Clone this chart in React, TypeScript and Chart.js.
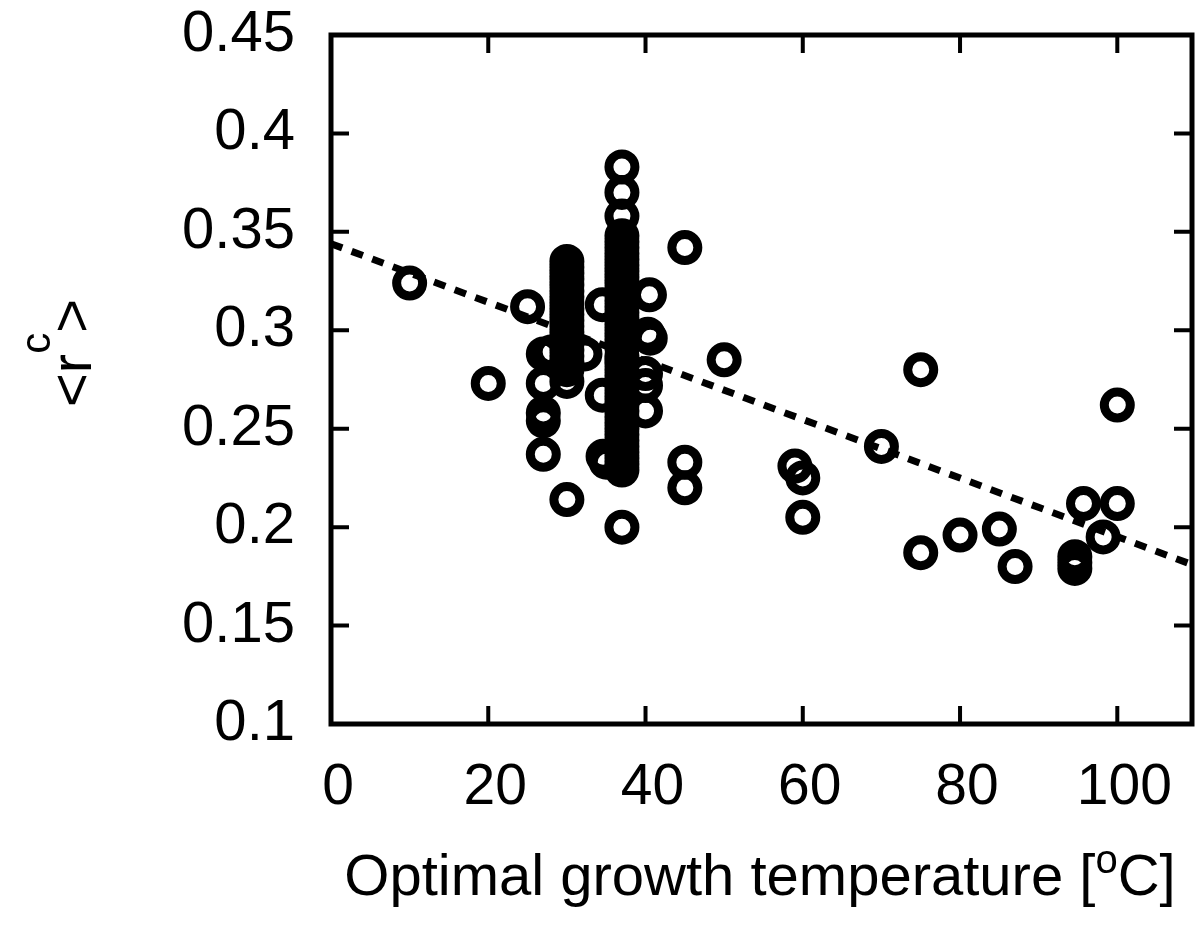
import React, { useEffect, useRef } from "react";
import { Chart, registerables } from "chart.js";

Chart.register(...registerables);

// Optimal growth temperature [°C] of each organism (x) and its <r^c> (y)
const growthTemps = [
  10, 20, 25, 27, 27, 27, 27, 27, 28,
  30, 30, 30, 30, 30, 30, 30, 30, 30, 30, 30, 30, 30, 30, 30, 30, 30, 30, 30, 30, 30,
  32.3, 34.5, 34.5, 34.6, 35,
  37, 37, 37, 37, 37, 37, 37, 37, 37, 37, 37, 37, 37, 37, 37, 37, 37, 37, 37, 37,
  37, 37, 37, 37, 37, 37, 37, 37, 37, 37, 37, 37, 37, 37, 37, 37, 37, 37, 37, 37,
  37, 37, 37, 37, 37,
  40.5, 40.3, 40.6, 40, 40, 40,
  45, 45, 45, 50, 59, 60, 60, 70, 75, 75, 80, 85, 87,
  94.6, 94.6, 94.6, 95.7, 98.2, 100, 100,
];
const rcValues = [
  0.324, 0.273, 0.312, 0.288, 0.273, 0.258, 0.254, 0.237, 0.289,
  0.335, 0.332, 0.329, 0.326, 0.323, 0.32, 0.317, 0.314, 0.311, 0.308, 0.305, 0.302, 0.299, 0.296, 0.293, 0.29, 0.287, 0.284, 0.28, 0.274, 0.214,
  0.288, 0.313, 0.267, 0.236, 0.233,
  0.383, 0.37, 0.358, 0.348, 0.345, 0.342, 0.339, 0.336, 0.333, 0.33, 0.327, 0.324, 0.321, 0.318, 0.315, 0.312, 0.309, 0.306, 0.303, 0.3,
  0.297, 0.294, 0.291, 0.287, 0.283, 0.28, 0.277, 0.274, 0.271, 0.268, 0.265, 0.262, 0.259, 0.256, 0.253, 0.25, 0.247, 0.244, 0.241, 0.238,
  0.235, 0.232, 0.229, 0.2, 0.285,
  0.318, 0.298, 0.296, 0.278, 0.272, 0.259,
  0.342, 0.233, 0.22, 0.285, 0.231, 0.225, 0.205, 0.241, 0.28, 0.187, 0.196, 0.199, 0.18,
  0.185, 0.182, 0.179, 0.212, 0.195, 0.212, 0.262,
];

// Linear fit (dotted line)
const fitTemps = [0, 109.5];
const fitValues = [0.344, 0.181];

const xTicks = [0, 20, 40, 60, 80, 100];
const xTickLabels = ["0", "20", "40", "60", "80", "100"];
const yTicks = [0.1, 0.15, 0.2, 0.25, 0.3, 0.35, 0.4, 0.45];
const yTickLabels = ["0.1", "0.15", "0.2", "0.25", "0.3", "0.35", "0.4", "0.45"];

const xTitleMain = "Optimal growth temperature [";
const xTitleSup = "o";
const xTitleEnd = "C]";
const yTitleMain = "<r";
const yTitleSup = "c";
const yTitleEnd = ">";

const FONT = '"Liberation Sans", Arial, Helvetica, sans-serif';

const framePlugin = {
  id: "frameAndTitles",
  afterDraw(chart: any) {
    const { ctx, chartArea } = chart;
    const { left, right, top, bottom } = chartArea;
    const xs = chart.scales.x;
    const ys = chart.scales.y;
    ctx.save();
    ctx.strokeStyle = "#000";
    ctx.lineCap = "butt";
    // inward ticks
    ctx.lineWidth = 4;
    const tl = 18;
    ctx.beginPath();
    xTicks.forEach((v) => {
      const px = xs.getPixelForValue(v);
      ctx.moveTo(px, bottom);
      ctx.lineTo(px, bottom - tl);
      ctx.moveTo(px, top);
      ctx.lineTo(px, top + tl);
    });
    yTicks.forEach((v) => {
      const py = ys.getPixelForValue(v);
      ctx.moveTo(left, py);
      ctx.lineTo(left + tl, py);
      ctx.moveTo(right, py);
      ctx.lineTo(right - tl, py);
    });
    ctx.stroke();
    // frame
    ctx.lineWidth = 5;
    ctx.lineJoin = "miter";
    ctx.strokeRect(left, top, right - left, bottom - top);

    // x title with superscript
    ctx.fillStyle = "#000";
    ctx.textBaseline = "alphabetic";
    ctx.textAlign = "left";
    const mainFont = `58px ${FONT}`;
    const supFont = `40px ${FONT}`;
    ctx.font = mainFont;
    const w1 = ctx.measureText(xTitleMain).width;
    const w3 = ctx.measureText(xTitleEnd).width;
    ctx.font = supFont;
    const w2 = ctx.measureText(xTitleSup).width;
    const totalX = w1 + w2 + w3;
    const cx = 760;
    const baseY = 895;
    const x0 = cx - totalX / 2;
    ctx.font = mainFont;
    ctx.fillText(xTitleMain, x0, baseY);
    ctx.font = supFont;
    ctx.fillText(xTitleSup, x0 + w1, baseY - 22);
    ctx.font = mainFont;
    ctx.fillText(xTitleEnd, x0 + w1 + w2, baseY);

    // y title rotated with superscript
    ctx.translate(91, 353);
    ctx.rotate(-Math.PI / 2);
    ctx.font = mainFont;
    const a1 = ctx.measureText(yTitleMain).width;
    const a3 = ctx.measureText(yTitleEnd).width;
    const ySupFont = `42px ${FONT}`;
    ctx.font = ySupFont;
    const a2 = ctx.measureText(yTitleSup).width;
    const totalY = a1 + a2 + a3;
    const u0 = -totalY / 2;
    ctx.font = mainFont;
    ctx.fillText(yTitleMain, u0, 0);
    ctx.font = ySupFont;
    ctx.fillText(yTitleSup, u0 + a1, -41);
    ctx.font = mainFont;
    ctx.fillText(yTitleEnd, u0 + a1 + a2, 0);
    ctx.restore();
  },
};

export default function App() {
  const canvasRef = useRef<HTMLCanvasElement | null>(null);

  useEffect(() => {
    const canvas = canvasRef.current;
    if (!canvas) return;
    const points = growthTemps.map((t, i) => ({ x: t, y: rcValues[i] }));
    const fitPoints = fitTemps.map((t, i) => ({ x: t, y: fitValues[i] }));
    const chart = new Chart(canvas, {
      type: "scatter",
      data: {
        datasets: [
          {
            type: "line",
            label: "fit",
            data: fitPoints,
            borderColor: "#000",
            borderWidth: 7,
            borderDash: [12, 10],
            pointRadius: 0,
            fill: false,
            tension: 0,
          } as any,
          {
            label: "organisms",
            data: points,
            pointStyle: "circle",
            pointRadius: 13,
            pointBorderWidth: 9,
            pointBorderColor: "#000",
            pointBackgroundColor: "rgba(0,0,0,0)",
            borderColor: "#000",
            backgroundColor: "rgba(0,0,0,0)",
          } as any,
        ],
      },
      options: {
        responsive: false,
        animation: false,
        events: [],
        layout: { autoPadding: false, padding: { left: 0, top: 35, right: 8, bottom: 0 } },
        plugins: {
          legend: { display: false },
          tooltip: { enabled: false },
          title: { display: false },
        },
        scales: {
          x: {
            type: "linear",
            min: 0,
            max: 109.5,
            grid: { display: false, drawTicks: false },
            border: { display: false },
            afterFit: (scale: any) => {
              scale.height = 201;
              scale.paddingLeft = 0;
              scale.paddingRight = 0;
            },
            afterBuildTicks: (scale: any) => {
              scale.ticks = xTicks.map((v) => ({ value: v }));
            },
            ticks: {
              color: "#000",
              font: { family: FONT, size: 57 },
              padding: 30,
              labelOffset: 7,
              maxRotation: 0,
              autoSkip: false,
              callback: (value: any) => {
                const i = xTicks.indexOf(Number(value));
                return i >= 0 ? xTickLabels[i] : "";
              },
            },
          },
          y: {
            type: "linear",
            min: 0.1,
            max: 0.45,
            grid: { display: false, drawTicks: false },
            border: { display: false },
            afterFit: (scale: any) => {
              scale.width = 331;
              scale.paddingTop = 0;
              scale.paddingBottom = 0;
            },
            afterBuildTicks: (scale: any) => {
              scale.ticks = yTicks.map((v) => ({ value: v }));
            },
            ticks: {
              color: "#000",
              font: { family: FONT, size: 58 },
              padding: 36,
              autoSkip: false,
              callback: (value: any) => {
                const i = yTicks.findIndex((t) => Math.abs(t - Number(value)) < 1e-9);
                return i >= 0 ? yTickLabels[i] : "";
              },
            },
          },
        },
      },
      plugins: [framePlugin],
    });
    return () => chart.destroy();
  }, []);

  return (
    <div style={{ position: "fixed", left: 0, top: 0, width: 1200, height: 925, background: "#fff" }}>
      <canvas ref={canvasRef} width={1200} height={925} style={{ display: "block" }} />
    </div>
  );
}
